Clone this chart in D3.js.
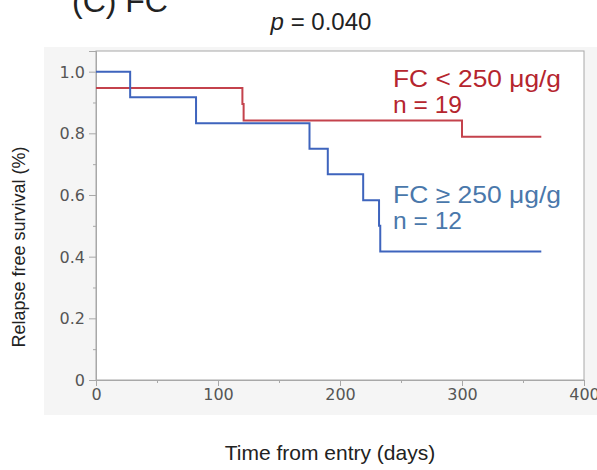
<!DOCTYPE html>
<html>
<head>
<meta charset="utf-8">
<script src="https://cdn.jsdelivr.net/npm/d3@7"></script>
<style>
html,body{margin:0;padding:0;background:#fff;}
svg{display:block;font-family:"Liberation Sans",Arial,sans-serif;}
</style>
</head>
<body>
<svg id="chart" width="597" height="470"></svg>
<script>
// Data
const lowTimes = [0, 120, 121, 300, 365];
const lowSurv  = [0.947, 0.895, 0.842, 0.789, 0.789];
const highTimes = [0, 28, 82, 175, 190, 219, 232, 233, 365];
const highSurv  = [1.0, 0.917, 0.833, 0.75, 0.667, 0.583, 0.5, 0.417, 0.417];
const xTicks = [0, 100, 200, 300, 400];
const yTicks = [0, 0.2, 0.4, 0.6, 0.8, 1.0];
const yTickLabels = ["0", "0.2", "0.4", "0.6", "0.8", "1.0"];
const lowLabel = ["FC < 250 μg/g", "n = 19"];
const highLabel = ["FC ≥ 250 μg/g", "n = 12"];

const svg = d3.select("#chart");
const m = {left: 96, right: 584, top: 51, bottom: 380};
const x = d3.scaleLinear().domain([0, 400]).range([m.left, m.right]);
const y = d3.scaleLinear().domain([0, 1.067]).range([m.bottom, m.top]);

// gray panel
svg.append("rect").attr("x", 44).attr("y", 47).attr("width", 553).attr("height", 368).attr("fill", "#f5f5f5");
svg.append("rect").attr("x", m.left).attr("y", m.top).attr("width", m.right - m.left).attr("height", m.bottom - m.top)
  .attr("fill", "#fff").attr("stroke", "#a8a8a8").attr("stroke-width", 1);

// axes
const yAxis = d3.axisLeft(y).tickValues(yTicks).tickFormat((d, i) => yTickLabels[i]).tickSize(7).tickPadding(4);
const gy = svg.append("g").attr("transform", `translate(${m.left},0)`).call(yAxis);
const yMinor = d3.axisLeft(y).tickValues([0.1, 0.3, 0.5, 0.7, 0.9]).tickFormat("").tickSize(3);
const gym = svg.append("g").attr("transform", `translate(${m.left},0)`).call(yMinor);
const xAxis = d3.axisBottom(x).tickValues(xTicks).tickSize(6).tickPadding(3);
const gx = svg.append("g").attr("transform", `translate(0,${m.bottom})`).call(xAxis);
const xMinor = d3.axisBottom(x).tickValues([50, 150, 250, 350]).tickFormat("").tickSize(3);
const gxm = svg.append("g").attr("transform", `translate(0,${m.bottom})`).call(xMinor);
[gy, gym, gx, gxm].forEach(g => {
  g.select(".domain").attr("stroke", "#a8a8a8");
  g.selectAll(".tick line").attr("stroke", "#a8a8a8");
  g.selectAll("text").attr("fill", "#555").style("font-size", "16px")
    .style("font-family", "'DejaVu Sans',Verdana,sans-serif");
});
gy.selectAll("text").attr("dy", "0.35em");

// curves
const step = d3.line().x(d => x(d[0])).y(d => y(d[1])).curve(d3.curveStepAfter);
svg.append("path").datum(lowTimes.map((t, i) => [t, lowSurv[i]]))
  .attr("d", step).attr("fill", "none").attr("stroke", "#c4424c").attr("stroke-width", 2);
svg.append("path").datum(highTimes.map((t, i) => [t, highSurv[i]]))
  .attr("d", step).attr("fill", "none").attr("stroke", "#3e64bd").attr("stroke-width", 2);

// labels
const lab = (lines, y0, col) => {
  lines.forEach((s, i) => {
    const t = svg.append("text").attr("x", 393).attr("y", y0 + i * 26)
      .attr("fill", col).style("font-size", "24px").text(s);
    t.attr("textLength", i === 0 ? 168 : 69).attr("lengthAdjust", "spacingAndGlyphs");
  });
};
lab(lowLabel, 87, "#b5252e");
lab(highLabel, 203, "#4a78ab");

// titles
svg.append("text").attr("x", 321).attr("y", 30).attr("text-anchor", "middle")
  .style("font-size", "24px").attr("fill", "#222")
  .html('<tspan font-style="italic">p</tspan> = 0.040');
svg.append("text").attr("x", 72).attr("y", 12)
  .style("font-size", "32px").attr("fill", "#222").text("(C) FC");
svg.append("text").attr("x", 330).attr("y", 460).attr("text-anchor", "middle")
  .style("font-size", "21px").attr("fill", "#222").text("Time from entry  (days)");
svg.append("text").attr("transform", "translate(25,247) rotate(-90)").attr("text-anchor", "middle")
  .style("font-size", "18px").attr("fill", "#222").text("Relapse free survival (%)");
</script>
</body>
</html>
